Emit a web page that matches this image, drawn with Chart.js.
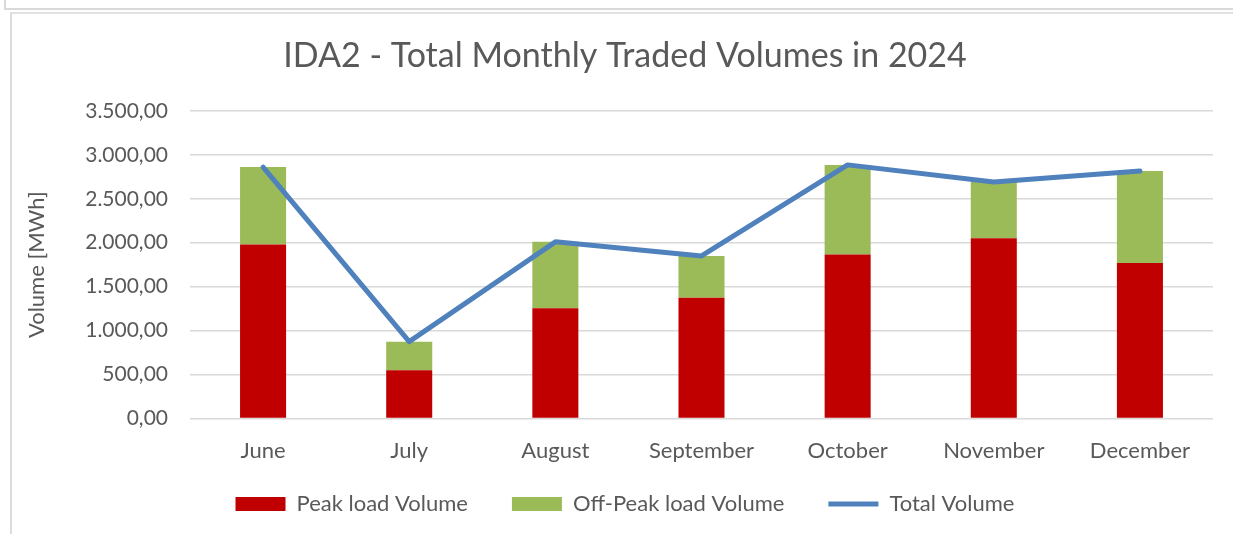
<!DOCTYPE html>
<html>
<head>
<meta charset="utf-8">
<script src="https://cdn.jsdelivr.net/npm/chart.js@4/dist/chart.umd.min.js"></script>
<style>
  html, body { margin: 0; padding: 0; background: #fff; overflow: hidden; }
  body { width: 1233px; height: 534px; position: relative; }
  .prev { position: absolute; left: 4px; top: -10px; width: 1300px; height: 18px;
          border-left: 2px solid #d9d9d9; border-bottom: 2px solid #d9d9d9; }
  .frame { position: absolute; left: 10px; top: 12px; width: 1300px; height: 600px;
           border-left: 2px solid #dcdcdc; border-top: 2px solid #e2e2e2; }
  .wrap { position: absolute; left: 12px; top: 14px; width: 1228px; height: 545px; }
</style>
</head>
<body>
<div class="prev"></div>
<div class="frame"></div>
<div class="wrap"><canvas id="chart"></canvas></div>
<script>
// IDA2 monthly traded volumes (MWh)
const months = ["June", "July", "August", "September", "October", "November", "December"];
const peakVolume = [1980, 550, 1255, 1375, 1865, 2050, 1770];
const offPeakVolume = [880, 325, 755, 475, 1020, 640, 1045];
const totalVolume = [2860, 875, 2010, 1850, 2885, 2690, 2815];
const yTicks = [0, 500, 1000, 1500, 2000, 2500, 3000, 3500];

const FONT = "Lato";
const TEXT = "#595959";

// 3500 -> "3.500,00"
function fmt(v) {
  const s = String(Math.round(v)).replace(/\B(?=(\d{3})+(?!\d))/g, ".");
  return s + ",00";
}

// legend sits closer to the axis labels than chart.js puts it
const liftLegend = {
  id: "liftLegend",
  afterLayout(chart) {
    chart.legend.top -= 34;
    chart.legend.bottom -= 34;
  },
};

new Chart(document.getElementById("chart"), {
  data: {
    labels: months,
    datasets: [
      {
        type: "bar", label: "Peak load Volume", data: peakVolume,
        backgroundColor: "#c00000", borderWidth: 0, stack: "vol", order: 1,
        pointStyle: "rect", barPercentage: 0.315, categoryPercentage: 1,
      },
      {
        type: "bar", label: "Off-Peak load Volume", data: offPeakVolume,
        backgroundColor: "#9bbb59", borderWidth: 0, stack: "vol", order: 1,
        pointStyle: "rect", barPercentage: 0.315, categoryPercentage: 1,
      },
      {
        type: "line", label: "Total Volume", data: totalVolume,
        borderColor: "#4f81bd", backgroundColor: "#4f81bd", borderWidth: 5,
        borderCapStyle: "round", borderJoinStyle: "round",
        pointRadius: 0, pointHoverRadius: 0, pointStyle: "line",
        stack: "total", order: 0, tension: 0,
      },
    ],
  },
  plugins: [liftLegend],
  options: {
    responsive: true, maintainAspectRatio: false, animation: false,
    layout: { padding: { left: 25, right: 27, top: 0, bottom: 0 } },
    plugins: {
      title: {
        display: true, text: "IDA2 - Total Monthly Traded Volumes in 2024",
        color: TEXT, font: { family: FONT, size: 34, weight: "normal" },
        padding: { top: 22, bottom: 34 },
      },
      legend: {
        position: "bottom",
        labels: {
          usePointStyle: true, pointStyleWidth: 50, boxHeight: 14,
          padding: 44, color: TEXT, font: { family: FONT, size: 22 },
          sort: (a, b) => a.datasetIndex - b.datasetIndex,
        },
      },
      tooltip: { enabled: false },
    },
    scales: {
      x: {
        stacked: true,
        grid: { display: false, drawTicks: false },
        border: { display: false },
        ticks: { color: TEXT, font: { family: FONT, size: 22 }, padding: 19 },
      },
      y: {
        stacked: true, min: 0, max: 3500,
        afterBuildTicks: (s) => { s.ticks = yTicks.map((v) => ({ value: v })); },
        afterFit: (s) => { s.width = 153; },
        grid: { color: "#d9d9d9", lineWidth: 1.5, drawTicks: false },
        border: { display: false },
        ticks: { color: TEXT, font: { family: FONT, size: 21 }, padding: 22, callback: (v) => fmt(v) },
        title: {
          display: true, text: "Volume [MWh]", color: TEXT,
          font: { family: FONT, size: 22 }, padding: { top: -13, bottom: 0 },
        },
      },
    },
  },
});
</script>
</body>
</html>
